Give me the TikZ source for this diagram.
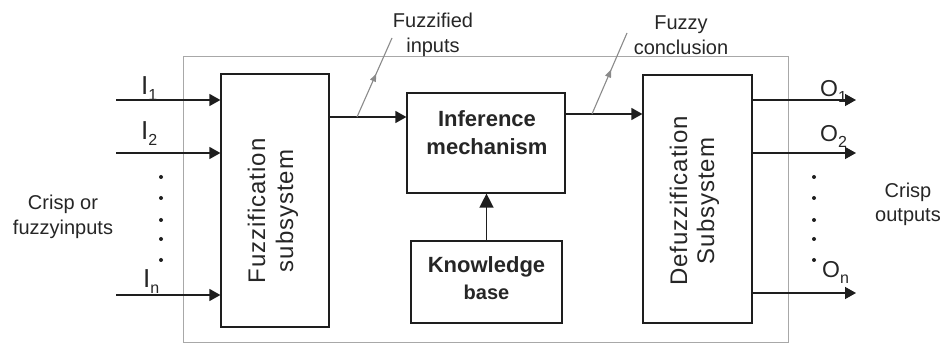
\documentclass[tikz,border=0pt]{standalone}
\usepackage{fontspec}
\setmainfont{Liberation Sans}
\newfontfamily\sysfont[LetterSpace=4]{Liberation Sans}
\usetikzlibrary{arrows.meta,decorations.markings}
\definecolor{ink}{HTML}{1E1E1E}
\definecolor{txt}{HTML}{262626}
\definecolor{frame}{HTML}{A8A8A8}
\definecolor{bus}{HTML}{8A8A8A}
\newcommand{\lowsub}[1]{\raisebox{-6pt}{\fontsize{16}{16}\selectfont #1}}

\begin{document}
\begin{tikzpicture}[x=1pt,y=-1pt,
  block/.style={draw=ink, line width=1.2pt, inner sep=0pt, fill=white},
  flow/.style={draw=ink, line width=1.4pt, -{Triangle[length=11pt,width=12pt]}},
  buswire/.style={draw=bus, line width=1.1pt, postaction={decorate},
    decoration={markings, mark=at position 0.55 with {\arrow[bus]{Triangle[length=8pt,width=6pt]}}}},
  lbl/.style={text=txt, font=\fontsize{20}{25}\selectfont, align=center, inner sep=0pt, anchor=base},
  sig/.style={text=txt, inner sep=0pt, anchor=base west, font=\fontsize{26}{26}\selectfont},
  osig/.style={sig, font=\fontsize{23}{23}\selectfont},
  blob/.style={circle, fill=ink, inner sep=0pt, minimum size=4pt}
]
\useasboundingbox (0,0) rectangle (943,347);

% enclosing system frame
\node[draw=frame, line width=1pt, minimum width=605pt, minimum height=286pt, inner sep=0pt] (frame) at (485.5,200) {};

% processing blocks
\node[block, minimum width=108pt, minimum height=253pt] (fuzz) at (275,200.5) {};
\node[block, minimum width=158pt, minimum height=100pt] (inf) at (486,143) {};
\node[block, minimum width=151pt, minimum height=82pt] (know) at (486.5,282) {};
\node[block, minimum width=109pt, minimum height=248pt] (defuzz) at (697.5,199) {};

% block captions (the base anchor of a two-line node sits on its last line)
\node[rotate=90, text=txt, align=center, inner sep=0pt,
      font=\sysfont\fontsize{24}{28}\selectfont] (fuzztext) at (273,211) {Fuzzification\\subsystem};
\node[rotate=90, text=txt, align=center, inner sep=0pt,
      font=\sysfont\fontsize{24}{27}\selectfont] (defuzztext) at (694.5,201) {Defuzzification\\Subsystem};
\node[text=txt, inner sep=0pt, anchor=base, font=\bfseries\fontsize{22}{28}\selectfont,
      align=center] (inftext) at (487,155) {Inference\\mechanism};
\node[text=txt, inner sep=0pt, anchor=base, font=\bfseries\fontsize{22}{22}\selectfont] (knowtext) at (486.5,273) {Knowledge};
\node[text=txt, inner sep=0pt, anchor=base, font=\bfseries\fontsize{20}{20}\selectfont] (basetext) at (486.5,300) {base};

% free labels
\node[lbl] (fzlabel) at (433,53) {Fuzzified\\inputs};
\node[lbl] (czlabel) at (681,55) {Fuzzy\\conclusion};
\node[lbl] (inlabel) at (63,235) {Crisp or\\fuzzyinputs};
\node[lbl, font=\fontsize{20}{24}\selectfont] (outlabel) at (908,222) {Crisp\\outputs};

% input signals
\coordinate (i1) at (116,100);
\coordinate (i2) at (116,153);
\coordinate (in) at (116,295);
\draw[flow] (i1) -- (i1 -| fuzz.west);
\draw[flow] (i2) -- (i2 -| fuzz.west);
\draw[flow] (in) -- (in -| fuzz.west);
\node[sig] (li1) at (141,95) {I\lowsub{1}};
\node[sig] (li2) at (141,140) {I\lowsub{2}};
\node[sig] (lin) at (143,288) {I\lowsub{n}};
\foreach \yy/\k in {177/a,198/b,220/c,239/d,260/e}
  \node[blob] (idot\k) at (161,\yy) {};

% fuzzified inputs to the inference mechanism
\coordinate (fzy) at (357,117);
\coordinate (fzend) at (392,38);
\draw[flow] (fuzz.east |- fzy) -- (fzy -| inf.west);
\draw[buswire] (fzy) -- (fzend);

% fuzzy conclusion to the defuzzifier
\coordinate (cz) at (592,114);
\coordinate (czend) at (627,33);
\draw[flow] (inf.east |- cz) -- (cz -| defuzz.west);
\draw[buswire] (cz) -- (czend);

% knowledge base feeds the inference mechanism
\draw[flow, -{Triangle[length=14pt,width=14pt]}] (know.north) -- (know.north |- inf.south);

% output signals
\coordinate (o1) at (856,100);
\coordinate (o2) at (856,153);
\coordinate (on) at (856,293);
\node[osig] (lo1) at (820,97) {O\lowsub{1}};
\node[osig] (lo2) at (820,142) {O\lowsub{2}};
\node[osig] (lon) at (822,278) {O\lowsub{n}};
\draw[flow] (o1 -| defuzz.east) -- (o1);
\draw[flow] (o2 -| defuzz.east) -- (o2);
\draw[flow] (on -| defuzz.east) -- (on);
\foreach \yy/\k in {177/a,198/b,220/c,239/d,260/e}
  \node[blob] (odot\k) at (814,\yy) {};
\end{tikzpicture}
\end{document}
